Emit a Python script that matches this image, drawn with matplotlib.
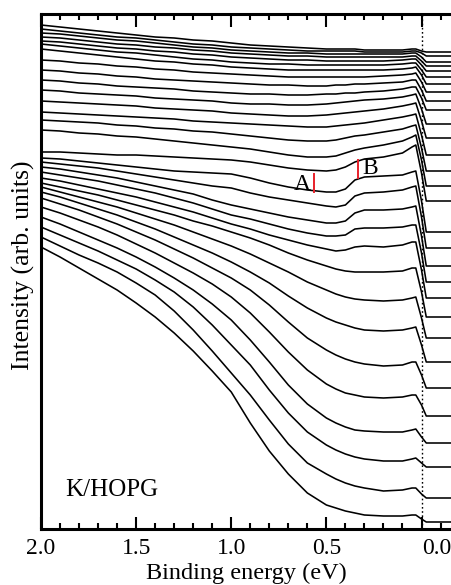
import numpy as np
import matplotlib
matplotlib.use("Agg")
import matplotlib.pyplot as plt
from matplotlib.ticker import MultipleLocator

plt.rcParams['font.family'] = ['Liberation Serif', 'DejaVu Serif']

# Binding energies (eV) at which the curves were read
energy = [2.0, 1.9, 1.8, 1.7, 1.6, 1.5, 1.4, 1.3, 1.2, 1.1, 1.0,
          0.9, 0.8, 0.7, 0.6, 0.5, 0.45, 0.4, 0.35, 0.3, 0.2, 0.1,
          0.05, 0.03, 0.0, -0.025, -0.155]

# Read-off curve heights (depth below the top, arb. units), bottom curve first
c01 = [247, 257, 268, 279, 290, 303, 317, 333, 351, 371, 392, 423, 451, 474, 493, 505, 508, 511, 513, 515, 516, 516, 515, 515, 519, 522, 522]
c02 = [237, 246, 255, 263, 272, 283, 295, 311, 330, 351, 373, 395, 420, 444, 463, 474, 479, 483, 486, 488, 491, 490, 488, 488, 494, 498, 498]
c03 = [227, 235, 243, 251, 260, 269, 280, 292, 307, 325, 345, 365, 390, 413, 432, 445, 450, 454, 457, 459, 461, 461, 459, 458, 463, 467, 467]
c04 = [217, 224, 232, 240, 248, 257, 267, 278, 290, 304, 320, 340, 362, 385, 404, 418, 423, 427, 430, 431, 432, 432, 430, 429, 437, 443, 443]
c05 = [207, 213, 220, 227, 235, 244, 253, 263, 273, 284, 297, 313, 332, 352, 370, 384, 389, 393, 395, 397, 398, 397, 395, 395, 405, 416, 416]
c06 = [198, 204, 210, 217, 224, 232, 240, 249, 258, 268, 278, 290, 305, 322, 338, 350, 355, 359, 362, 364, 366, 365, 362, 362, 375, 388, 388]
c07 = [192, 197, 203, 209, 215, 222, 229, 237, 245, 253, 262, 272, 283, 296, 308, 318, 322, 325, 328, 330, 331, 330, 328, 327, 345, 362, 362]
c08 = [187, 192, 197, 202, 207, 213, 219, 225, 232, 239, 246, 254, 263, 272, 282, 290, 294, 297, 299, 300, 301, 300, 298, 297, 318, 338, 338]
c09 = [183, 187, 191, 195, 200, 205, 210, 215, 221, 226, 232, 238, 245, 253, 260, 266, 269, 271, 272, 272, 272, 271, 268, 268, 292, 317, 317]
c10 = [178, 181, 185, 189, 193, 197, 202, 207, 212, 218, 224, 229, 235, 240, 245, 249, 251, 250, 247, 246, 247, 245, 242, 242, 270, 298, 298]
c11 = [172, 175, 178, 181, 185, 189, 193, 198, 203, 209, 215, 219, 224, 229, 233, 236, 236, 235, 229, 228, 228, 227, 225, 225, 253, 282, 282]
c12 = [167, 169, 172, 175, 178, 182, 186, 190, 194, 200, 205, 209, 213, 217, 220, 223, 223, 221, 213, 210, 210, 209, 207, 206, 236, 266, 266]
c13 = [162, 164, 166, 168, 171, 174, 177, 180, 183, 186, 188, 193, 197, 200, 203, 206, 207, 205, 196, 193, 192, 190, 187, 186, 217, 248, 248]
c14 = [158, 159, 161, 163, 165, 167, 169, 171, 172, 173, 174, 178, 183, 187, 190, 192, 192, 189, 180, 177, 176, 175, 172, 171, 201, 232, 232]
c15 = [152, 152, 153, 154, 155, 155, 156, 157, 158, 159, 160, 162, 165, 168, 170, 171, 170, 167, 162, 159, 157, 153, 147, 145, 173, 201, 201]
c16 = [130, 131, 133, 134, 136, 137, 139, 141, 143, 145, 147, 149, 152, 155, 157, 157, 156, 153, 150, 148, 145, 141, 137, 135, 160, 186, 186]
c17 = [120, 121, 122, 123, 125, 126, 128, 129, 131, 132, 134, 136, 138, 140, 141, 141, 140, 138, 136, 135, 132, 129, 126, 125, 148, 171, 171]
c18 = [112, 113, 114, 115, 116, 117, 118, 119, 121, 122, 123, 124, 125, 126, 127, 127, 126, 125, 124, 123, 120, 117, 115, 114, 135, 155, 155]
c19 = [101, 102, 103, 104, 105, 106, 108, 109, 110, 111, 113, 114, 115, 116, 116, 115, 114, 113, 112, 111, 109, 106, 104, 103, 121, 138, 138]
c20 = [90, 91, 93, 94, 95, 96, 98, 99, 100, 101, 103, 104, 104, 105, 105, 104, 103, 102, 101, 100, 99, 97, 95, 94, 109, 124, 124]
c21 = [80, 81, 83, 84, 86, 87, 88, 89, 91, 92, 93, 94, 94, 95, 95, 94, 94, 93, 93, 92, 91, 89, 87, 87, 98, 110, 110]
c22 = [70, 71, 73, 74, 76, 77, 79, 80, 81, 82, 83, 84, 85, 85, 86, 86, 85, 85, 84, 84, 83, 82, 80, 80, 90, 101, 101]
c23 = [60, 61, 63, 64, 66, 67, 69, 70, 72, 73, 74, 75, 76, 77, 77, 77, 77, 77, 77, 77, 76, 75, 74, 73, 82, 92, 92]
c24 = [49, 51, 53, 55, 57, 59, 61, 62, 64, 65, 67, 68, 69, 70, 70, 70, 70, 70, 70, 70, 70, 69, 68, 67, 75, 84, 84]
c25 = [44, 46, 48, 50, 52, 53, 55, 57, 59, 60, 62, 63, 64, 64, 65, 65, 65, 65, 65, 65, 65, 64, 63, 63, 70, 77, 77]
c26 = [41, 42, 44, 46, 48, 49, 51, 52, 54, 55, 57, 58, 59, 60, 60, 61, 61, 61, 61, 61, 61, 60, 59, 59, 65, 71, 71]
c27 = [37, 38, 40, 42, 44, 45, 47, 48, 50, 51, 53, 54, 55, 56, 56, 57, 57, 57, 57, 57, 57, 57, 56, 56, 61, 66, 66]
c28 = [33, 34, 36, 38, 40, 41, 43, 45, 47, 48, 50, 51, 52, 53, 53, 54, 54, 54, 54, 54, 54, 54, 53, 53, 57, 62, 62]
c29 = [29, 31, 33, 35, 37, 38, 40, 42, 44, 45, 47, 48, 49, 50, 51, 51, 51, 51, 51, 52, 52, 52, 51, 51, 53, 56, 56]
c30 = [25, 27, 29, 31, 33, 35, 37, 38, 40, 41, 43, 45, 46, 47, 48, 49, 49, 49, 49, 50, 50, 50, 49, 49, 51, 52, 52]

curves = [c01, c02, c03, c04, c05, c06, c07, c08, c09, c10, c11, c12, c13, c14, c15,
          c16, c17, c18, c19, c20, c21, c22, c23, c24, c25, c26, c27, c28, c29, c30]

xticks = [2.0, 1.5, 1.0, 0.5, 0.0]
xticklabels = ["2.0", "1.5", "1.0", "0.5", ""]
last_label = "0.0"

TOP = 529  # scale: intensity = TOP - depth

fig = plt.figure(figsize=(4.51, 5.85), dpi=100)
ax = fig.add_axes([41 / 451, (585 - 529) / 585, 1 - 41 / 451, (529 - 14) / 585])

E = np.array(energy)
for c in curves:
    ax.plot(E, TOP - np.array(c), color='black', lw=1.15, solid_joinstyle='round')

ax.axvline(0.0, color='black', lw=1.0, ls=(0, (1.2, 1.8)))

# markers A and B
ax.plot([0.567, 0.567], [TOP - 192, TOP - 174], color='#e8202a', lw=1.4)
ax.plot([0.336, 0.336], [TOP - 178, TOP - 160], color='#e8202a', lw=1.4)
ax.text(0.627, TOP - 184, "A", fontsize=17, ha='center', va='center')
ax.text(0.268, TOP - 168, "B", fontsize=17, ha='center', va='center')
ax.text(1.875, TOP - 490, "K/HOPG", fontsize=18, ha='left', va='center')

ax.set_xlim(2.0, -0.155)
ax.set_ylim(0, TOP - 14)

ax.xaxis.set_minor_locator(MultipleLocator(0.1))
ax.set_xticks(xticks)
ax.set_xticklabels(xticklabels)
ax.tick_params(axis='x', which='major', direction='in', length=9, width=1.5,
               top=True, bottom=True, labelsize=17, pad=6.5)
ax.tick_params(axis='x', which='minor', direction='in', length=4.5, width=1.5,
               top=True, bottom=True)
# the "0.0" label sits slightly right of its tick, as in the original
ax.annotate(last_label, xy=(0.0, 0.0), xycoords=ax.get_xaxis_transform(),
            xytext=(11, -6.5), textcoords='offset points',
            ha='center', va='top', fontsize=17)
ax.set_yticks([])
for s in ['left', 'bottom', 'top']:
    ax.spines[s].set_linewidth(2.2)
ax.spines['right'].set_visible(False)

ax.set_xlabel("Binding energy (eV)", fontsize=17.5, labelpad=2.5)
fig.text(23 / 451, 1 - 265 / 585, "Intensity (arb. units)", fontsize=18.5,
         rotation=90, ha='center', va='center')

fig.savefig("out.png", dpi=100)
